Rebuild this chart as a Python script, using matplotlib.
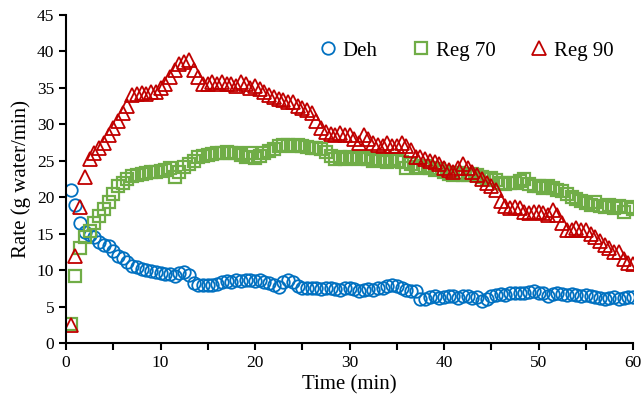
import numpy as np
import matplotlib
matplotlib.use("Agg")
import matplotlib.pyplot as plt
from matplotlib.ticker import MultipleLocator

plt.rcParams['font.family'] = ['Liberation Serif', 'DejaVu Serif']

time_min = np.arange(0.5, 60.01, 0.5)

deh = [
    21.0, 19.0, 16.5, 15.2, 14.8, 14.6, 13.9, 13.5, 13.3, 12.6,
    12.0, 11.6, 11.1, 10.6, 10.4, 10.2, 10.0, 9.9, 9.8, 9.6,
    9.5, 9.4, 9.2, 9.6, 9.7, 9.3, 8.2, 8.0, 7.9, 8.0,
    7.9, 8.1, 8.3, 8.5, 8.4, 8.6, 8.5, 8.7, 8.6, 8.5,
    8.6, 8.4, 8.2, 8.0, 7.7, 8.4, 8.6, 8.3, 7.8, 7.6,
    7.5, 7.6, 7.5, 7.4, 7.5, 7.6, 7.4, 7.3, 7.5, 7.6,
    7.4, 7.2, 7.3, 7.4, 7.3, 7.5, 7.6, 7.8, 7.9, 7.8,
    7.6, 7.3, 7.2, 7.1, 6.1, 6.0, 6.3, 6.4, 6.2, 6.3,
    6.5, 6.4, 6.2, 6.5, 6.4, 6.2, 6.3, 5.8, 6.1, 6.4,
    6.6, 6.7, 6.6, 6.8, 6.9, 6.8, 6.9, 7.0, 7.1, 6.9,
    6.8, 6.5, 6.7, 6.8, 6.7, 6.6, 6.7, 6.6, 6.5, 6.6,
    6.4, 6.3, 6.2, 6.0, 6.2, 6.3, 6.1, 6.2, 6.3, 6.3,
]

reg70 = [
    2.6, 9.2, 13.0, 14.6, 15.4, 16.4, 17.4, 18.4, 19.4, 20.5,
    21.5, 22.0, 22.5, 22.9, 23.0, 23.2, 23.3, 23.5, 23.4, 23.6,
    23.8, 24.0, 22.8, 23.5, 24.2, 24.5, 25.0, 25.5, 25.7, 25.8,
    25.9, 26.0, 26.1, 26.2, 26.0, 26.1, 25.8, 25.5, 26.0, 25.4,
    25.6, 26.0, 26.4, 26.6, 27.0, 27.1, 27.2, 27.0, 27.2, 27.0,
    26.9, 26.7, 26.8, 26.6, 26.2, 25.6, 25.3, 25.5, 25.2, 25.5,
    25.4, 25.3, 25.5, 25.2, 25.0, 25.3, 25.1, 24.9, 25.2, 25.0,
    24.8, 24.0, 24.5, 24.2, 24.0, 24.3, 24.0, 23.8, 23.9, 23.5,
    23.2, 23.0, 23.3, 23.0, 23.1, 23.2, 23.0, 22.8, 22.5, 22.6,
    22.3, 22.0, 21.8, 22.0, 22.0, 22.2, 22.5, 21.8, 21.5, 21.6,
    21.3, 21.5, 21.2, 21.0, 20.8, 20.5, 20.0, 19.8, 19.5, 19.2,
    19.0, 19.3, 18.8, 18.7, 19.0, 18.5, 18.8, 18.0, 18.6, 18.4,
]

reg90 = [
    2.5, 12.0, 18.7, 22.8, 25.3, 26.0, 26.8, 27.5, 28.5, 29.5,
    30.5, 31.5, 32.5, 34.0, 34.2, 34.3, 34.2, 34.5, 34.5, 35.0,
    35.5, 36.5, 37.5, 38.3, 38.5, 38.8, 37.5, 36.5, 35.5, 35.5,
    35.8, 35.5, 35.8, 35.5, 35.5, 35.3, 35.8, 35.5, 35.0, 35.2,
    34.8, 34.5, 34.0, 33.8, 33.5, 33.3, 33.0, 33.0, 32.5, 32.3,
    32.0, 31.5, 30.5, 29.5, 29.0, 28.7, 28.5, 28.8, 28.5, 28.5,
    28.0, 27.5, 28.5, 28.0, 27.5, 27.2, 27.0, 27.5, 27.0, 27.0,
    27.5, 27.0, 26.5, 25.5, 25.5, 25.3, 25.0, 24.8, 24.5, 24.0,
    23.8, 23.5, 24.0, 24.5, 24.0, 23.5, 23.0, 22.5, 22.0, 21.5,
    21.0, 19.5, 18.8, 18.5, 18.7, 18.5, 18.0, 17.8, 18.0, 18.0,
    17.8, 17.5, 18.2, 17.5, 16.5, 15.5, 15.5, 15.8, 15.5, 15.5,
    15.0, 14.5, 14.0, 13.5, 13.0, 12.5, 12.5, 11.5, 11.0, 10.8,
]

series_labels = ["Deh", "Reg 70", "Reg 90"]
x_label = "Time (min)"
y_label = "Rate (g water/min)"

fig = plt.figure(figsize=(6.44, 4.13), dpi=100)
ax = fig.add_axes([0.1025, 0.1695, 0.8805, 0.7942])

mew = 1.3
ms = 9
ax.plot(time_min, deh, linestyle='none', marker='o', markersize=ms,
        markerfacecolor='none', markeredgecolor='#0070C0', markeredgewidth=mew,
        label=series_labels[0])
ax.plot(time_min, reg70, linestyle='none', marker='s', markersize=ms - 0.5,
        markerfacecolor='none', markeredgecolor='#70AD47', markeredgewidth=mew + 0.3,
        label=series_labels[1])
ax.plot(time_min, reg90, linestyle='none', marker='^', markersize=ms + 0.5,
        markerfacecolor='none', markeredgecolor='#C00000', markeredgewidth=mew,
        label=series_labels[2])

ax.set_xlim(0, 60)
ax.set_ylim(0, 45)
ax.xaxis.set_major_locator(MultipleLocator(10))
ax.xaxis.set_minor_locator(MultipleLocator(5))
ax.yaxis.set_major_locator(MultipleLocator(5))
for s in ['top', 'right']:
    ax.spines[s].set_visible(False)
for s in ['left', 'bottom']:
    ax.spines[s].set_linewidth(1.5)
ax.tick_params(axis='both', which='both', direction='out', length=5, width=1.5,
               labelsize=12.5)
ax.tick_params(axis='x', which='minor', length=5, width=1.5)
ax.set_xlabel(x_label, fontsize=15, labelpad=3)
ax.set_ylabel(y_label, fontsize=15, labelpad=4)

leg = ax.legend(loc='center', bbox_to_anchor=(0.724, 0.877),
                bbox_transform=fig.transFigure, ncol=3, frameon=False,
                fontsize=15, handlelength=0.8, handletextpad=0.3,
                columnspacing=1.7, borderpad=0)

fig.savefig("out.png", dpi=100)
